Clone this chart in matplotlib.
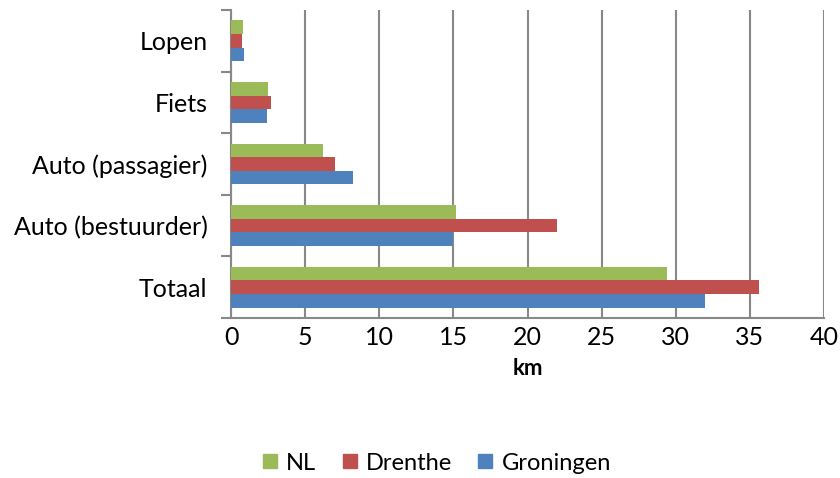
import matplotlib
matplotlib.use("Agg")
import matplotlib.pyplot as plt
from matplotlib.lines import Line2D
import numpy as np

categories = ["Totaal", "Auto (bestuurder)", "Auto (passagier)", "Fiets", "Lopen"]
groningen = [32.0, 14.95, 8.2, 2.4, 0.85]
drenthe = [35.6, 22.0, 7.0, 2.7, 0.75]
nl = [29.4, 15.15, 6.2, 2.5, 0.8]
series_names = ["Groningen", "Drenthe", "NL"]
colors = ["#4F81BD", "#C0504D", "#9BBB59"]
xticks = [0, 5, 10, 15, 20, 25, 30, 35, 40]

plt.rcParams['font.family'] = ['Lato', 'DejaVu Sans']
fs = 18

fig = plt.figure(figsize=(8.4, 4.78), dpi=100)
ax = fig.add_axes([231/840, 1-318/478, (824-231)/840, (318-10)/478])

y = np.arange(len(categories))
h = 0.22
for i, (vals, name, c) in enumerate(zip([groningen, drenthe, nl], series_names, colors)):
    ax.barh(y + (i-1)*h, vals, height=h, color=c, label=name, zorder=3)

ax.set_xlim(0, 40)
ax.set_ylim(-0.5, len(categories)-0.5)
ax.set_xticks(xticks)
ax.set_xticklabels([str(v) for v in xticks], fontsize=fs)
ax.set_yticks(y)
ax.set_yticklabels(categories, fontsize=fs)
ax.set_yticks(np.arange(-0.5, len(categories)), minor=True)
ax.tick_params(axis='y', which='major', length=0, pad=17)
ax.tick_params(axis='y', which='minor', length=7, color='#888888', width=1.5)
ax.tick_params(axis='x', which='major', length=0, pad=6)
ax.grid(axis='x', color='#888888', linewidth=1.5, zorder=0)
for s in ['top', 'right']:
    ax.spines[s].set_visible(False)
for s in ['left', 'bottom']:
    ax.spines[s].set_color('#888888')
    ax.spines[s].set_linewidth(1.5)
ax.set_xlabel("km", fontsize=fs-2, fontweight='bold', labelpad=6)

leg_handles = [Line2D([], [], marker='s', linestyle='', markersize=10, color=c) for c in colors[::-1]]
fig.legend(leg_handles, series_names[::-1], loc='center', bbox_to_anchor=(437/840, 1-463/478),
           ncol=3, frameon=False, fontsize=fs-1, handlelength=0.6, handletextpad=0.4, columnspacing=1.1)

fig.savefig("out.png", dpi=100)
